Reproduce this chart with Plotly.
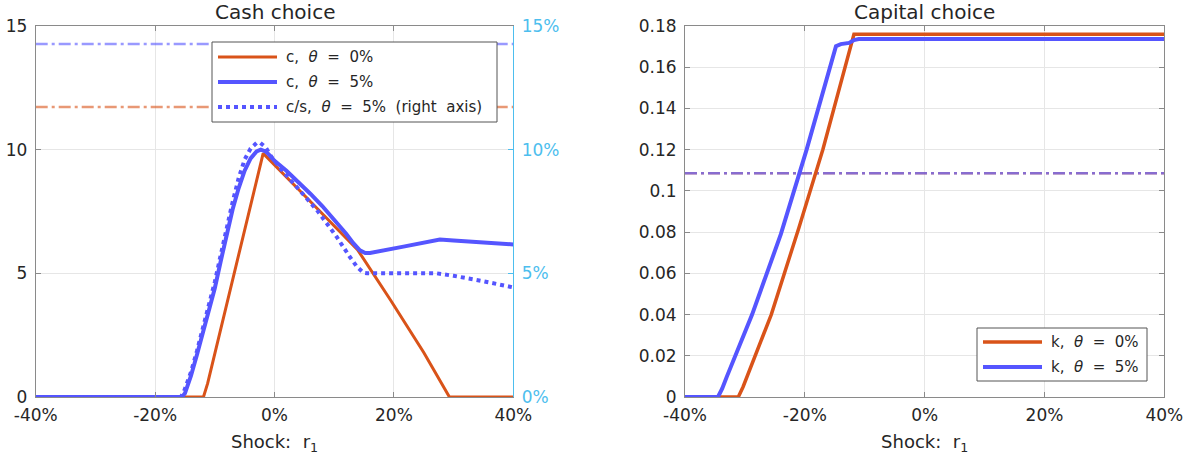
import plotly.graph_objects as go

# ---------------- data ----------------
# Cash choice (left panel); shock r1 in %
shock_c0 = [-40, -11.9, -11.2, -10.0, -7.75, -1.9, 4.0, 10.0, 13.9, 19.4, 25.0, 29.3, 40]
cash_theta0 = [0, 0, 0.55, 1.75, 3.92, 9.85, 8.40, 6.92, 5.96, 3.93, 1.80, 0, 0]

shock_c5 = [-40, -15.5, -15.0, -14.5, -14.0, -13.0, -12.0, -11.0, -10.0, -9.0, -8.0, -7.0,
            -6.0, -5.0, -4.0, -3.0, -2.3, -1.5, -1.0, 0.0, 2.0, 4.0, 6.0, 8.0, 10.0, 12.0,
            13.2, 14.3, 15.2, 16.0, 21.6, 26.0, 27.7, 30.0, 40]
cash_theta5 = [0, 0, 0.15, 0.45, 0.85, 1.7, 2.6, 3.5, 4.4, 5.5, 6.6, 7.6,
               8.45, 9.15, 9.65, 9.93, 10.0, 9.93, 9.82, 9.55, 9.15, 8.7, 8.22, 7.72, 7.18, 6.6,
               6.22, 5.93, 5.82, 5.82, 6.08, 6.3, 6.37, 6.33, 6.17]

shock_cs5 = [-40, -15.7, -15.2, -14.6, -14.0, -13.0, -12.0, -11.0, -10.0, -9.0, -8.0, -7.0,
             -6.0, -5.0, -4.0, -3.0, -2.4, -1.5, -0.5, 1.5, 7.1, 10.4, 12.6, 13.8, 14.9,
             15.5, 27.2, 30.0, 35.0, 40]
cash_share_theta5 = [0, 0, 0.2, 0.55, 1.0, 1.85, 2.75, 3.65, 4.65, 5.75, 6.85, 7.9,
                     8.85, 9.6, 10.05, 10.27, 10.28, 10.1, 9.7, 9.1, 7.56, 6.48, 5.67, 5.27, 5.02,
                     5.0, 5.0, 4.9, 4.68, 4.43]

# reference levels (dash-dot) in the cash panel
cash_ref_theta5 = 14.27
cash_ref_theta0 = 11.73

# Capital choice (right panel)
shock_k0 = [-40, -31.1, -30.3, -28.0, -25.6, -21.0, -17.0, -11.8, 40]
capital_theta0 = [0, 0, 0.005, 0.022, 0.040, 0.082, 0.120, 0.176, 0.176]

shock_k5 = [-40, -34.5, -33.8, -33.0, -28.8, -24.0, -19.7, -14.8, -14.0, -12.6, -11.8, -11.0, 40]
capital_theta5 = [0, 0, 0.004, 0.010, 0.040, 0.079, 0.120, 0.1702, 0.1712, 0.1718, 0.1732, 0.1737, 0.1737]

capital_ref = 0.1085

x_range = [-40, 40]
x_ticks = [-40, -20, 0, 20, 40]
x_ticktext = ["-40%", "-20%", "0%", "20%", "40%"]
cash_ticks = [0, 5, 10, 15]
cash_share_ticktext = ["0%", "5%", "10%", "15%"]
capital_ticks = [0, 0.02, 0.04, 0.06, 0.08, 0.10, 0.12, 0.14, 0.16, 0.18]
capital_ticktext = ["0", "0.02", "0.04", "0.06", "0.08", "0.1", "0.12", "0.14", "0.16", "0.18"]

legend_cash = ["c,  <i>θ</i>  =  0%", "c,  <i>θ</i>  =  5%", "c/s,  <i>θ</i>  =  5%  (right  axis)"]
legend_capital = ["k,  <i>θ</i>  =  0%", "k,  <i>θ</i>  =  5%"]

# ---------------- style ----------------
W, H = 1195, 455
FONT = "DejaVu Sans"
ORANGE = "#D95319"
BLUE = "#5555FF"
CYAN = "#4DBEEE"
AXIS = "#8a8a8a"
GRID = "#e6e6e6"
TXT = "#262626"
NB = "\u00a0"
DASHDOT = "12px,4px,3px,4px"


def lab(s):
    return s.replace(" ", NB)


def px_x(p):
    return p / W


def px_y(p):
    return 1 - p / H


fig = go.Figure()

# dash-dot reference lines (left)
fig.add_trace(go.Scatter(x=x_range, y=[cash_ref_theta5] * 2, mode="lines", xaxis="x", yaxis="y",
                         line=dict(color="rgba(85,85,255,0.6)", width=2.5, dash=DASHDOT),
                         showlegend=False, hoverinfo="skip"))
fig.add_trace(go.Scatter(x=x_range, y=[cash_ref_theta0] * 2, mode="lines", xaxis="x", yaxis="y",
                         line=dict(color="rgba(217,83,25,0.6)", width=2.5, dash=DASHDOT),
                         showlegend=False, hoverinfo="skip"))

cash_styles = [dict(color=ORANGE, width=3), dict(color=BLUE, width=4), dict(color=BLUE, width=4, dash="dot")]
fig.add_trace(go.Scatter(x=shock_c0, y=cash_theta0, mode="lines", xaxis="x", yaxis="y",
                         name=lab(legend_cash[0]), showlegend=False, line=cash_styles[0]))
fig.add_trace(go.Scatter(x=shock_c5, y=cash_theta5, mode="lines", xaxis="x", yaxis="y",
                         name=lab(legend_cash[1]), showlegend=False, line=cash_styles[1]))
fig.add_trace(go.Scatter(x=shock_cs5, y=cash_share_theta5, mode="lines", xaxis="x", yaxis="y2",
                         name=lab(legend_cash[2]), showlegend=False, line=cash_styles[2]))

# right panel reference line (both series share the level)
fig.add_trace(go.Scatter(x=x_range, y=[capital_ref] * 2, mode="lines", xaxis="x2", yaxis="y3",
                         line=dict(color="rgba(217,83,25,0.6)", width=2.5, dash=DASHDOT),
                         showlegend=False, hoverinfo="skip"))
fig.add_trace(go.Scatter(x=x_range, y=[capital_ref] * 2, mode="lines", xaxis="x2", yaxis="y3",
                         line=dict(color="rgba(85,85,255,0.65)", width=2.5, dash=DASHDOT),
                         showlegend=False, hoverinfo="skip"))

capital_styles = [dict(color=ORANGE, width=3.5), dict(color=BLUE, width=4)]
fig.add_trace(go.Scatter(x=shock_k0, y=capital_theta0, mode="lines", xaxis="x2", yaxis="y3",
                         name=lab(legend_capital[0]), showlegend=False, line=capital_styles[0]))
fig.add_trace(go.Scatter(x=shock_k5, y=capital_theta5, mode="lines", xaxis="x2", yaxis="y3",
                         name=lab(legend_capital[1]), showlegend=False, line=capital_styles[1]))

tickfont = dict(family=FONT, size=17, color=TXT)
common_x = dict(range=x_range, tickvals=x_ticks, ticktext=x_ticktext, ticks="inside", ticklen=5,
                tickcolor=AXIS, showline=True, linecolor=AXIS, linewidth=1, mirror="ticks",
                showgrid=True, gridcolor=GRID, zeroline=False, tickfont=tickfont, automargin=False,
                ticklabelstandoff=3,
                title=dict(text=lab("Shock:  r<sub>1</sub>"), font=dict(family=FONT, size=18, color=TXT),
                           standoff=15))

left_dom = [px_x(35.7), px_x(513.3)]
right_dom = [px_x(685), px_x(1164.3)]
ydom = [px_y(397), px_y(26)]

shapes = []
annotations = [
    dict(text="Cash choice", x=(left_dom[0] + left_dom[1]) / 2, y=px_y(12), xref="paper",
         yref="paper", xanchor="center", yanchor="middle", showarrow=False,
         font=dict(family=FONT, size=20, color=TXT)),
    dict(text="Capital choice", x=(right_dom[0] + right_dom[1]) / 2, y=px_y(12), xref="paper",
         yref="paper", xanchor="center", yanchor="middle", showarrow=False,
         font=dict(family=FONT, size=20, color=TXT)),
]


def add_legend(box, names, styles, first_y, step, line_x0, line_x1, text_x):
    x0, y0, x1, y1 = box
    shapes.append(dict(type="rect", xref="paper", yref="paper", x0=px_x(x0), x1=px_x(x1),
                       y0=px_y(y1), y1=px_y(y0), line=dict(color="#555555", width=1),
                       fillcolor="white", layer="above"))
    for i, (nm, st) in enumerate(zip(names, styles)):
        yy = first_y + i * step
        ln = dict(color=st["color"], width=st["width"])
        if "dash" in st:
            ln["dash"] = st["dash"]
        shapes.append(dict(type="line", xref="paper", yref="paper", x0=px_x(line_x0), x1=px_x(line_x1),
                           y0=px_y(yy), y1=px_y(yy), line=ln, layer="above"))
        annotations.append(dict(text=lab(nm), x=px_x(text_x), y=px_y(yy), xref="paper", yref="paper",
                                xanchor="left", yanchor="middle", showarrow=False,
                                font=dict(family=FONT, size=15, color=TXT)))


add_legend((212, 42, 497, 122), legend_cash, cash_styles, 57, 25, 218, 277, 284)
add_legend((977, 328, 1147, 381), legend_capital, capital_styles, 342, 25, 983, 1042, 1049)

fig.update_layout(
    width=W, height=H,
    margin=dict(l=0, r=0, t=0, b=0),
    paper_bgcolor="white", plot_bgcolor="white",
    showlegend=False,
    xaxis=dict(domain=left_dom, anchor="y", **common_x),
    yaxis=dict(domain=ydom, anchor="x", range=[0, 15], tickvals=cash_ticks, ticks="inside", ticklen=5,
               tickcolor=AXIS, showline=True, linecolor=AXIS, mirror=False, showgrid=True,
               gridcolor=GRID, zeroline=False, tickfont=tickfont, automargin=False,
               ticklabelstandoff=4),
    yaxis2=dict(overlaying="y", anchor="x", side="right", range=[0, 15], tickvals=cash_ticks,
                ticktext=cash_share_ticktext, ticks="inside", ticklen=5, tickcolor=CYAN,
                showline=True, linecolor=CYAN, showgrid=False, zeroline=False, automargin=False,
                ticklabelstandoff=4, tickfont=dict(family=FONT, size=17, color=CYAN)),
    xaxis2=dict(domain=right_dom, anchor="y3", **common_x),
    yaxis3=dict(domain=ydom, anchor="x2", range=[0, 0.18], tickvals=capital_ticks,
                ticktext=capital_ticktext, ticks="inside", ticklen=5, tickcolor=AXIS,
                showline=True, linecolor=AXIS, mirror="ticks", showgrid=True, gridcolor=GRID,
                zeroline=False, tickfont=tickfont, automargin=False, ticklabelstandoff=4),
    shapes=shapes,
    annotations=annotations,
)

fig.write_html("out.html")
